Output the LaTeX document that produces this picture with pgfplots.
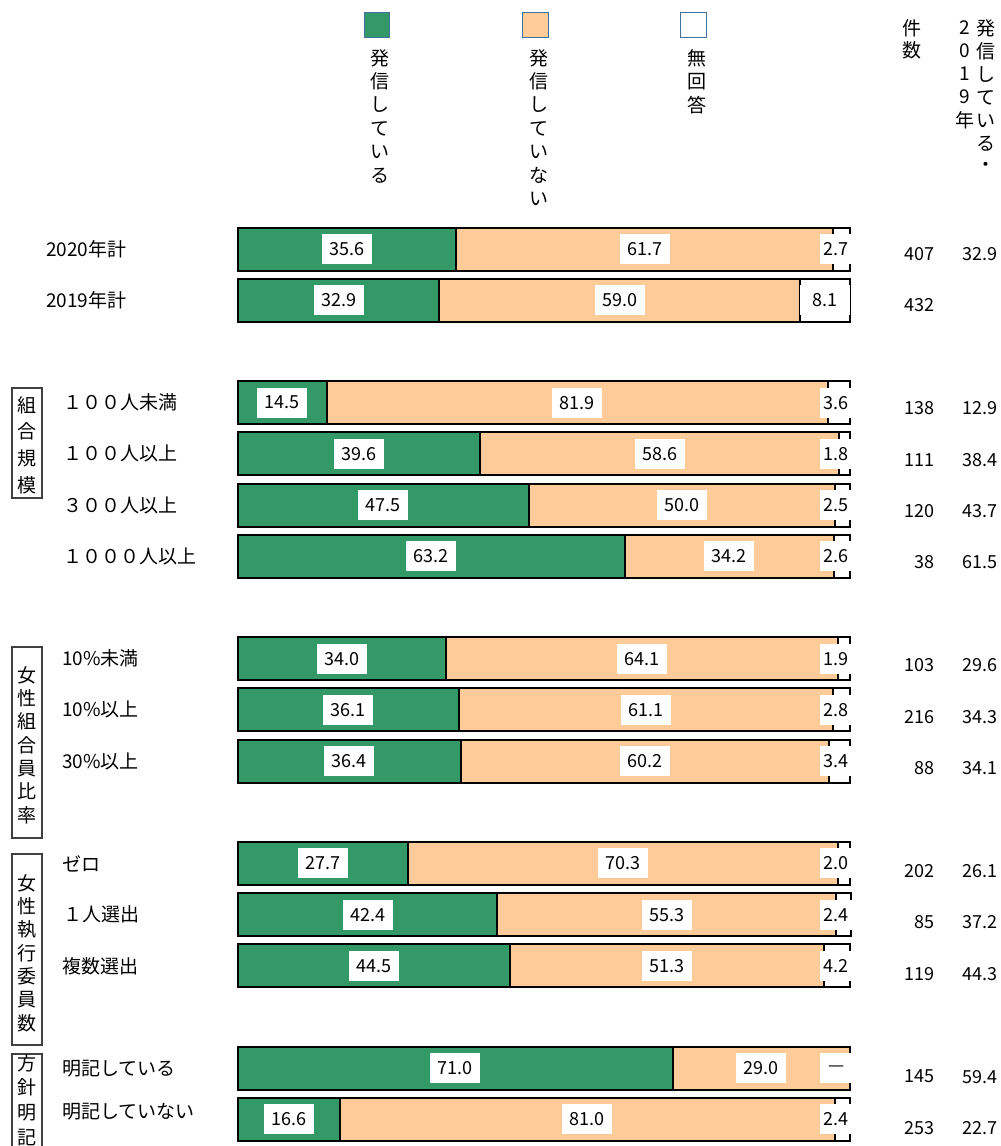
\documentclass[border=0pt]{standalone}
\usepackage{fontspec}
\setmainfont{Noto Sans CJK JP}
\usepackage{pgfplots}
\pgfplotsset{compat=1.18}
\usepackage{pgfplotstable}
\definecolor{cgreen}{RGB}{51,153,102}
\definecolor{corange}{RGB}{255,204,153}
\definecolor{cblue}{RGB}{65,113,156}
\newcommand\lbl{\fontsize{9.5}{11}\selectfont}
\newcommand\num{\fontsize{9}{10}\selectfont}

\pgfplotstableread{
row g o w
0 35.6 61.7 2.7
1 32.9 59.0 8.1
3 14.5 81.9 3.6
4 39.6 58.6 1.8
5 47.5 50.0 2.5
6 63.2 34.2 2.6
8 34.0 64.1 1.9
9 36.1 61.1 2.8
10 36.4 60.2 3.4
12 27.7 70.3 2.0
13 42.4 55.3 2.4
14 44.5 51.3 4.2
16 71.0 29.0 0
17 16.6 81.0 2.4
}\bars

\pgfplotsset{myaxis/.style={at={(119pt,-111.7pt)}, anchor=north west,
  scale only axis, width=306pt, height=460.8pt,
  xmin=0, xmax=100, ymin=-0.5, ymax=17.5, y dir=reverse,
  hide axis, clip=false}}

\begin{document}
\begin{tikzpicture}
\path[use as bounding box] (0,0) rectangle (500.5pt,-573pt);
\clip (0,0) rectangle (500.5pt,-573pt);

\begin{scope}[x=0.5pt,y=0.5pt]
% legend
\draw[cblue, fill=cgreen, line width=0.5pt] (364,-12) rectangle (389,-37);
\draw[cblue, fill=corange, line width=0.5pt] (522,-12) rectangle (548,-37);
\draw[cblue, fill=white, line width=0.5pt] (680,-12) rectangle (706,-37);
\foreach \c [count=\i from 0] in {発,信,し,て,い,る}
  \node[font=\lbl, inner sep=0pt] at (380,{-58-23.5*\i}) {\c};
\foreach \c [count=\i from 0] in {発,信,し,て,い,な,い}
  \node[font=\lbl, inner sep=0pt] at (539,{-58-23.5*\i}) {\c};
\foreach \c [count=\i from 0] in {無,回,答}
  \node[font=\lbl, inner sep=0pt] at (697,{-58-23.5*\i}) {\c};
% right headers
\foreach \c [count=\i from 0] in {件,数}
  \node[font=\lbl, inner sep=0pt] at (912,{-28-22.5*\i}) {\c};
\foreach \c [count=\i from 0] in {2,0,1,9,年}
  \node[font=\lbl, inner sep=0pt] at (965,{-28-23*\i}) {\c};
\foreach \c [count=\i from 0] in {発,信,し,て,い,る,・}
  \node[font=\lbl, inner sep=0pt] at (986,{-28-23.2*\i}) {\c};
% group boxes
\draw[black!75, line width=0.6pt] (12,-388) rectangle (42,-498);
\foreach \c [count=\i from 0] in {組,合,規,模}
  \node[font=\lbl, inner sep=0pt] at (27,{-405-26.7*\i}) {\c};
\draw[black!75, line width=0.6pt] (12,-647) rectangle (42,-838);
\foreach \c [count=\i from 0] in {女,性,組,合,員,比,率}
  \node[font=\lbl, inner sep=0pt] at (27,{-675-23.3*\i}) {\c};
\draw[black!75, line width=0.6pt] (12,-854) rectangle (42,-1045);
\foreach \c [count=\i from 0] in {女,性,執,行,委,員,数}
  \node[font=\lbl, inner sep=0pt] at (27,{-883-23.3*\i}) {\c};
\draw[black!75, line width=0.6pt] (12,-1054) rectangle (42,-1250);
\foreach \c [count=\i from 0] in {方,針,明,記}
  \node[font=\lbl, inner sep=0pt] at (27,{-1063-24.7*\i}) {\c};
\end{scope}

% bars
\begin{axis}[myaxis, xbar stacked, bar width=0.84]
\addplot[fill=cgreen, draw=black, line width=1pt] table[x=g, y=row] {\bars};
\addplot[fill=corange, draw=black, line width=1pt] table[x=o, y=row] {\bars};
\addplot[fill=white, draw=black, line width=1pt] table[x=w, y=row] {\bars};
\end{axis}

% labels
\begin{axis}[myaxis]
% inner segment labels
\addplot[draw=none, mark=none, nodes near coords, point meta=explicit symbolic,
  every node near coord/.append style={anchor=center, fill=white, inner sep=0pt,
  minimum width=25pt, minimum height=15pt, font=\num}]
  table[x=x, y=y, meta=t] {
x y t
17.8 0 35.6
66.45 0 61.7
16.45 1 32.9
62.4 1 59.0
7.25 3 14.5
55.45 3 81.9
19.8 4 39.6
68.9 4 58.6
23.75 5 47.5
72.5 5 50.0
31.6 6 63.2
80.3 6 34.2
17.0 8 34.0
66.05 8 64.1
18.05 9 36.1
66.65 9 61.1
18.2 10 36.4
66.5 10 60.2
13.85 12 27.7
62.85 12 70.3
21.2 13 42.4
70.05 13 55.3
22.25 14 44.5
70.15 14 51.3
35.5 16 71.0
85.5 16 29.0
8.3 17 16.6
57.1 17 81.0
95.95 1 8.1
};
% small unanswered labels at right end
\addplot[draw=none, mark=none, nodes near coords, point meta=explicit symbolic,
  every node near coord/.append style={anchor=east, fill=white, inner sep=0pt,
  minimum width=16pt, minimum height=15pt, font=\num}]
  table[x=x, y=y, meta=t] {
x y t
100.4 0 2.7
100.4 3 3.6
100.4 4 1.8
100.4 5 2.5
100.4 6 2.6
100.4 8 1.9
100.4 9 2.8
100.4 10 3.4
100.4 12 2.0
100.4 13 2.4
100.4 14 4.2
100.4 16 —
100.4 17 2.4
};
% category names
\addplot[draw=none, mark=none, nodes near coords, point meta=explicit symbolic,
  every node near coord/.append style={anchor=west, inner sep=0pt, font=\lbl}]
  table[x=x, y=y, meta=t] {
x y t
-31.4 0 2020年計
-31.4 1 2019年計
-28.6 3 １００人未満
-28.6 4 １００人以上
-28.6 5 ３００人以上
-28.6 6 １０００人以上
-28.8 8 10\%未満
-28.8 9 10\%以上
-28.8 10 30\%以上
-28.8 12 ゼロ
-28.6 13 １人選出
-28.8 14 複数選出
-28.8 16 明記している
-28.8 16.85 明記していない
};
% counts
\addplot[draw=none, mark=none, nodes near coords, point meta=explicit symbolic,
  every node near coord/.append style={anchor=east, inner sep=0pt, font=\num}]
  table[x=x, y=y, meta=t] {
x y t
113.9 0.1 407
113.9 1.104 432
113.9 3.112 138
113.9 4.116 111
113.9 5.12 120
113.9 6.124 38
113.9 8.132 103
113.9 9.136 216
113.9 10.14 88
113.9 12.148 202
113.9 13.152 85
113.9 14.156 119
113.9 16.164 145
113.9 17.168 253
};
% 2019 values
\addplot[draw=none, mark=none, nodes near coords, point meta=explicit symbolic,
  every node near coord/.append style={anchor=east, inner sep=0pt, font=\num}]
  table[x=x, y=y, meta=t] {
x y t
124.2 0.1 32.9
124.2 3.112 12.9
124.2 4.116 38.4
124.2 5.12 43.7
124.2 6.124 61.5
124.2 8.132 29.6
124.2 9.136 34.3
124.2 10.14 34.1
124.2 12.148 26.1
124.2 13.152 37.2
124.2 14.156 44.3
124.2 16.164 59.4
124.2 17.168 22.7
};
\end{axis}
\end{tikzpicture}
\end{document}
